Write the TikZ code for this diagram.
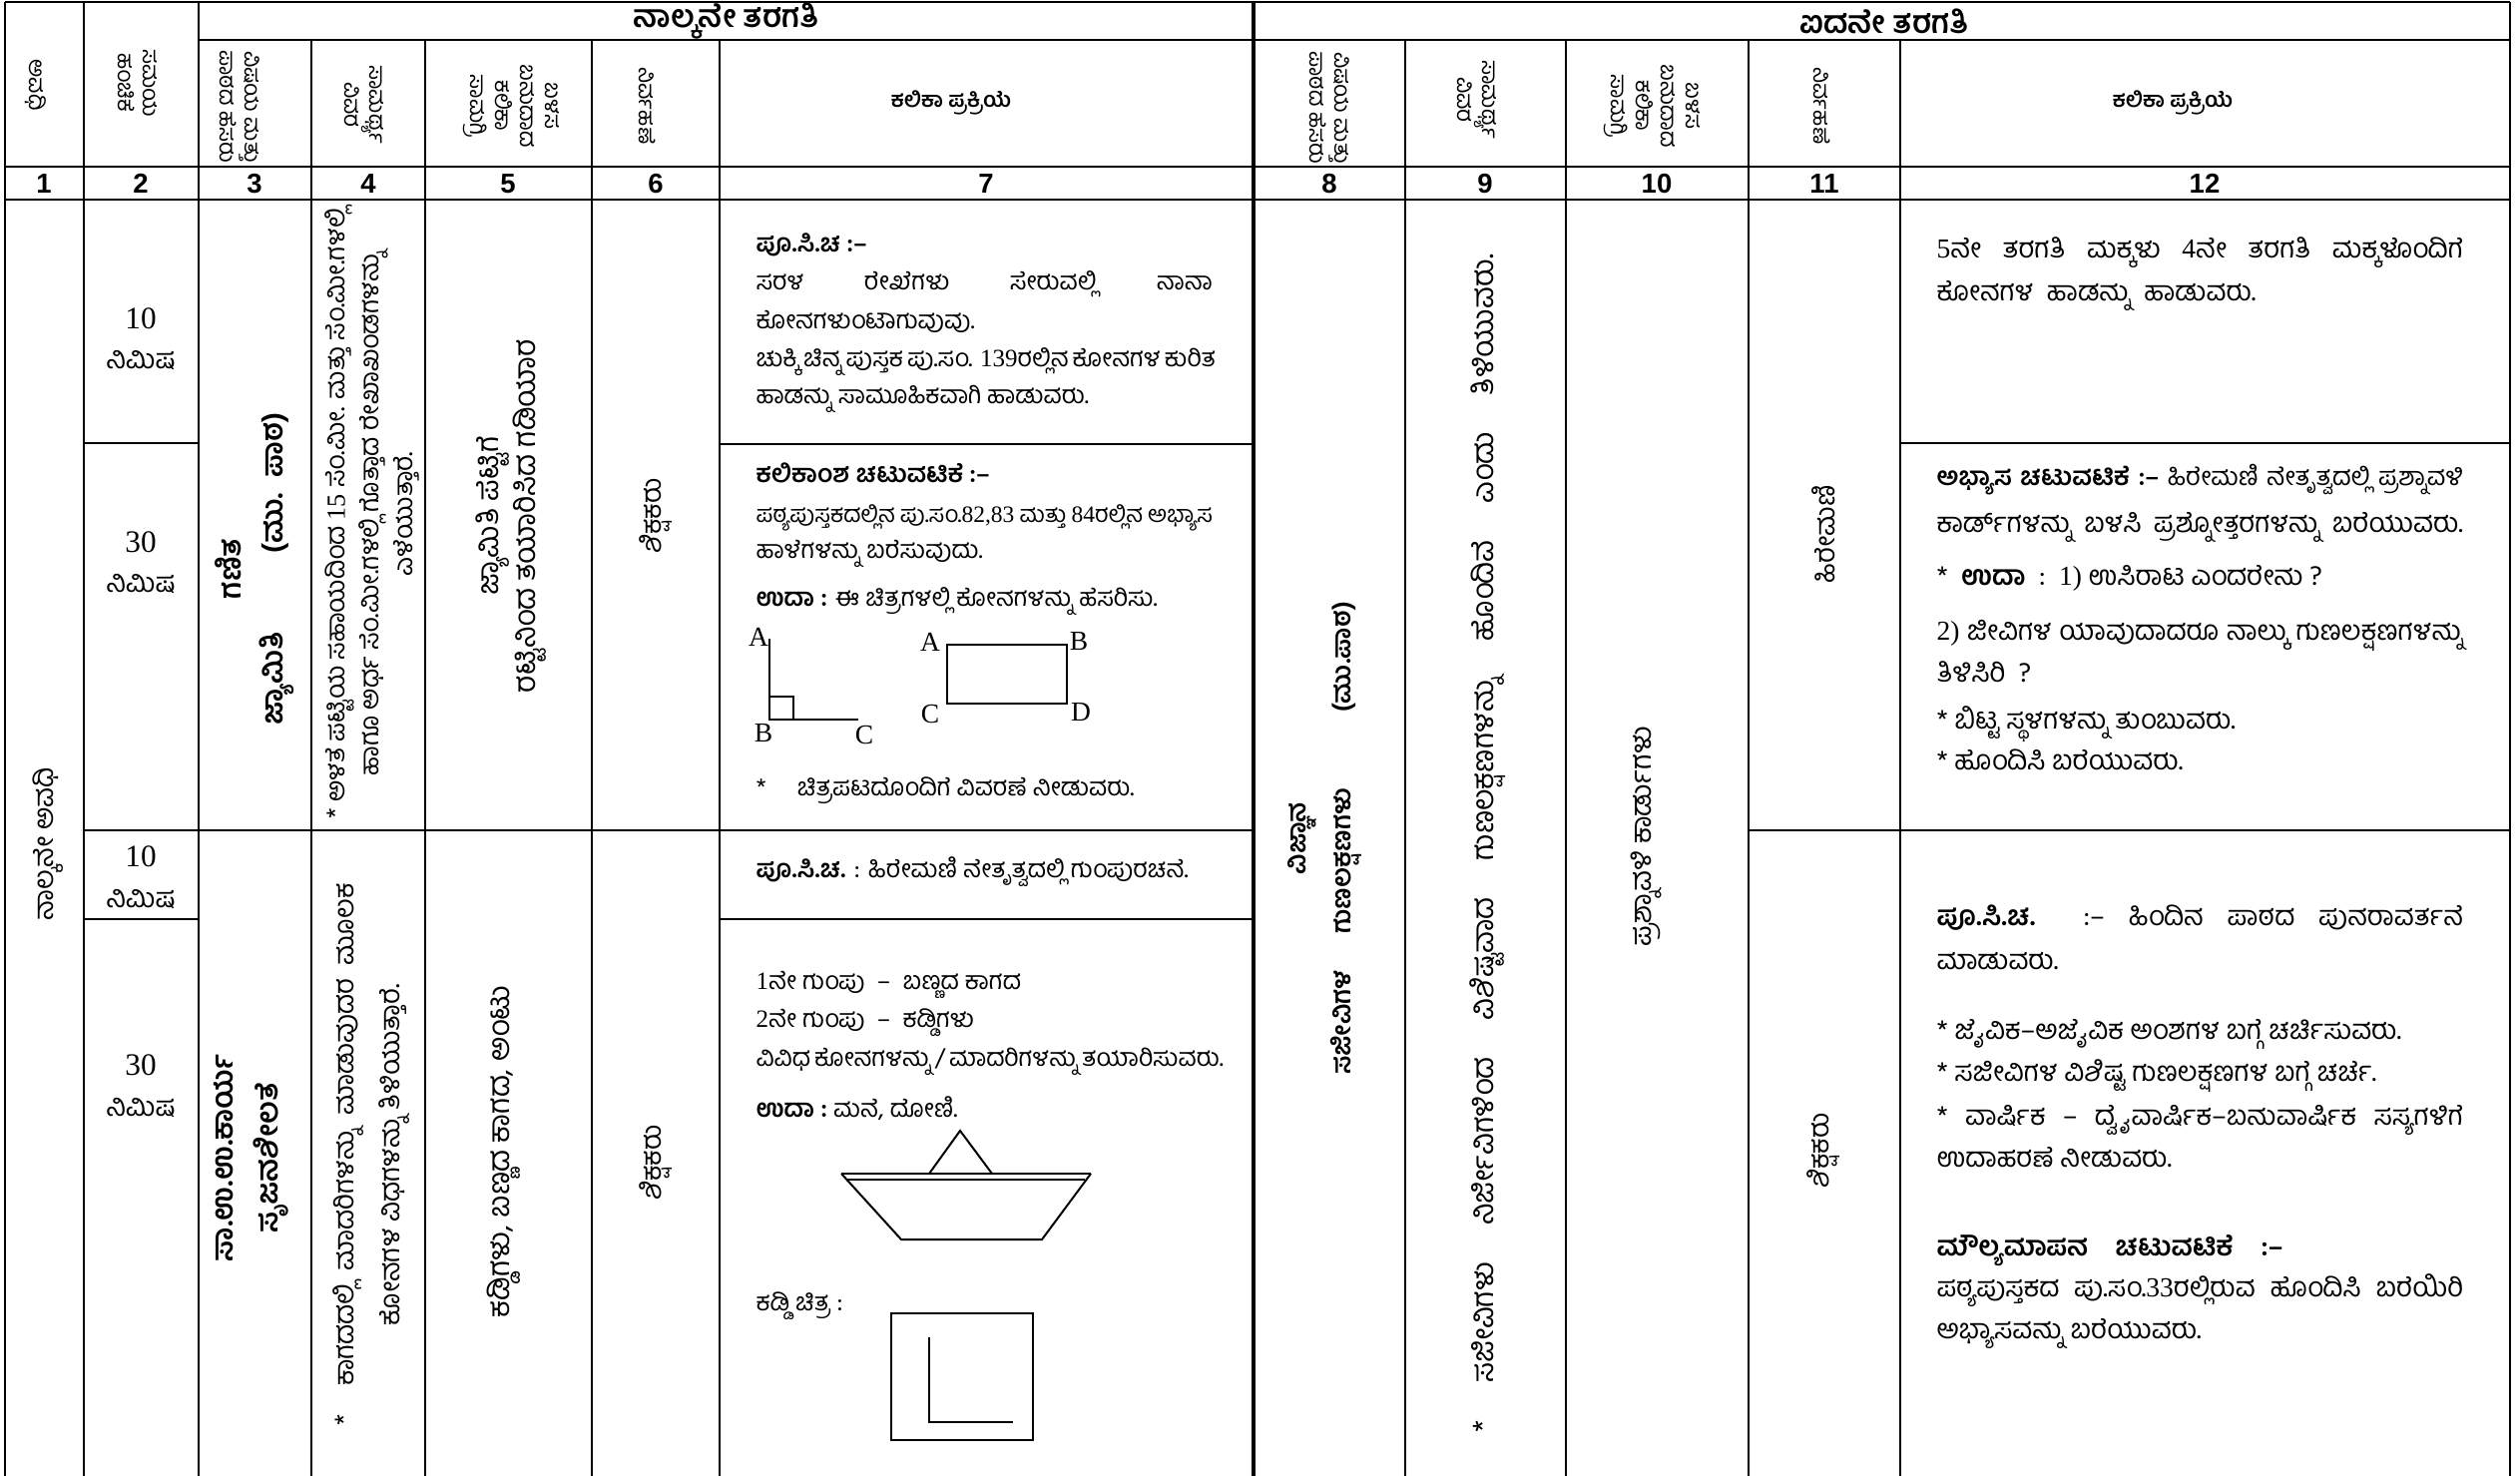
\documentclass[tikz,border=0pt]{standalone}
\usepackage{fontspec}
\setmainfont{Hind Mysuru}[Script=Kannada]
\newfontfamily\lat{Liberation Serif}
\newfontfamily\hd{Liberation Sans}
\newcommand\dg[1]{{\lat #1}}
\newlength\wA \setlength\wA{183pt}
\newlength\wB \setlength\wB{211pt}
\newcommand\jA[1]{\makebox[\wA][s]{#1}}
\newcommand\jB[1]{\makebox[\wB][s]{#1}}
\tikzset{
 grid/.style={line width=1.15pt},
 fig/.style={line width=0.8pt},
 tA/.style={anchor=mid west, inner sep=0pt, font=\fontsize{10}{12}\selectfont},
 tB/.style={anchor=mid west, inner sep=0pt, font=\fontsize{11}{14}\selectfont},
 rt/.style={rotate=90, align=center, inner sep=0pt},
 hv/.style={rotate=-90, align=center, inner sep=0pt, font=\fontsize{9}{10}\selectfont},
 num/.style={inner sep=0pt, font=\hd\bfseries\fontsize{11}{12}\selectfont},
 ttl/.style={inner sep=0pt, font=\bfseries\fontsize{12.5}{14}\selectfont},
 lbl/.style={inner sep=0pt, font=\lat\fontsize{11}{12}\selectfont},
}
\begin{document}
\begin{tikzpicture}[x=0.4pt,y=-0.4pt]
\useasboundingbox (0,0) rectangle (2525,1479);
\fill[white] (0,0) rectangle (2525,1479);
% ---------- grid ----------
\draw[grid] (5,2) -- (2515,2);
\draw[grid] (199,40) -- (2515,40);
\draw[grid] (5,167) -- (2515,167);
\draw[grid] (5,200) -- (2515,200);
\draw[grid] (84,444) -- (199,444);
\draw[grid] (721,445) -- (1256,445);
\draw[grid] (1904,444) -- (2515,444);
\draw[grid] (84,832) -- (1256,832);
\draw[grid] (1752,832) -- (2515,832);
\draw[grid] (84,921) -- (199,921);
\draw[grid] (721,921) -- (1256,921);
\foreach \x in {5,84,199,2515} \draw[grid] (\x,2) -- (\x,1490);
\draw[line width=1.6pt] (1256,2) -- (1256,1490);
\foreach \x in {312,426,593,721,1408,1569,1752,1904} \draw[grid] (\x,40) -- (\x,1490);
% ---------- header ----------
\node[ttl] (t4) at (728,21) {ನಾಲ್ಕನೇ ತರಗತಿ};
\node[ttl] (t5) at (1888,21) {ಐದನೇ ತರಗತಿ};
\node[hv] (h1) at (36,85) {ಅವಧಿ};
\node[hv] (h2) at (138,83) {ಸಮಯ\\ಹಂಚಿಕೆ};
\node[hv] (h3) at (240,107) {ವಿಷಯ ಮತ್ತು\\ಪಾಠದ ಹೆಸರು};
\node[hv] (h4) at (365,105) {ಸಾಮರ್ಥ್ಯ\\ವಿವರ};
\node[hv] (h5) at (512,106) {ಬಳಸ\\ಬಹುದಾದ\\ಕಲಿಕಾ\\ಸಾಮಗ್ರಿ};
\node[hv] (h6) at (649,106) {ನಿರ್ವಹಣೆ};
\node[inner sep=0pt, font=\bfseries\fontsize{8.5}{10}\selectfont] (h7) at (953,103) {ಕಲಿಕಾ ಪ್ರಕ್ರಿಯೆ};
\node[hv] (h8) at (1332,108) {ವಿಷಯ ಮತ್ತು\\ಪಾಠದ ಹೆಸರು};
\node[hv] (h9) at (1480,100) {ಸಾಮರ್ಥ್ಯ\\ವಿವರ};
\node[hv] (h10) at (1655,106) {ಬಳಸ\\ಬಹುದಾದ\\ಕಲಿಕಾ\\ಸಾಮಗ್ರಿ};
\node[hv] (h11) at (1826,106) {ನಿರ್ವಹಣೆ};
\node[inner sep=0pt, font=\bfseries\fontsize{8.5}{10}\selectfont] (h12) at (2177,103) {ಕಲಿಕಾ ಪ್ರಕ್ರಿಯೆ};
\foreach \x/\t [count=\i] in {44/1,141/2,255/3,369/4,509/5,657/6,988/7,1332/8,1488/9,1660/10,1828/11,2209/12}
  \node[num] (n\i) at (\x,184) {\t};
% ---------- column 1, 2 ----------
\node[rt, font=\fontsize{11}{13}\selectfont] (c1) at (48,846) {ನಾಲ್ಕನೇ ಅವಧಿ};
\node[lbl, font=\lat\fontsize{12.5}{14}\selectfont] (c2a) at (141,319) {10};
\node[inner sep=0pt, font=\fontsize{11}{13}\selectfont] (c2b) at (141,361) {ನಿಮಿಷ};
\node[lbl, font=\lat\fontsize{12.5}{14}\selectfont] (c2c) at (141,543) {30};
\node[inner sep=0pt, font=\fontsize{11}{13}\selectfont] (c2d) at (141,585) {ನಿಮಿಷ};
\node[lbl, font=\lat\fontsize{12.5}{14}\selectfont] (c2e) at (141,858) {10};
\node[inner sep=0pt, font=\fontsize{11}{13}\selectfont] (c2f) at (141,901) {ನಿಮಿಷ};
\node[lbl, font=\lat\fontsize{12.5}{14}\selectfont] (c2g) at (141,1067) {30};
\node[inner sep=0pt, font=\fontsize{11}{13}\selectfont] (c2h) at (141,1110) {ನಿಮಿಷ};
% ---------- columns 3-6 ----------
\node[rt, font=\bfseries\fontsize{12}{17}\selectfont] (c3a) at (255,570) {ಗಣಿತ\\ಜ್ಯಾಮಿತಿ\hspace{2.6em}(ಮು.\ \ ಪಾಠ)};
\node[rt, font=\bfseries\fontsize{12}{18}\selectfont] (c3b) at (252,1160) {ಸಾ.ಉ.ಉ.ಕಾರ್ಯ\\ಸೃಜನಶೀಲತೆ};
\node[rt, font=\fontsize{10.5}{13.6}\selectfont] (c4a) at (373,515) {* ಅಳತೆ ಪಟ್ಟಿಯ ಸಹಾಯದಿಂದ \dg{15} ಸೆಂ.ಮೀ. ಮತ್ತು ಸೆಂ.ಮೀ.ಗಳಲ್ಲಿ\\ಹಾಗೂ ಅರ್ಧ ಸೆಂ.ಮೀ.ಗಳಲ್ಲಿ ಗೊತ್ತಾದ ರೇಖಾಖಂಡಗಳನ್ನು\\ಎಳೆಯುತ್ತಾರೆ.};
\node[rt, font=\fontsize{11}{18.4}\selectfont] (c4b) at (372,1157) {*\hspace{0.8em} ಕಾಗದದಲ್ಲಿ\ \ ಮಾದರಿಗಳನ್ನು\ \ ಮಾಡುವುದರ\ \ ಮೂಲಕ\\ಕೋನಗಳ ವಿಧಗಳನ್ನು ತಿಳಿಯುತ್ತಾರೆ.};
\node[rt, font=\fontsize{12}{15}\selectfont] (c5a) at (512,517) {ಜ್ಯಾಮಿತಿ ಪೆಟ್ಟಿಗೆ\\ರಟ್ಟಿನಿಂದ ತಯಾರಿಸಿದ ಗಡಿಯಾರ};
\node[rt, font=\fontsize{12}{15}\selectfont] (c5b) at (505,1154) {ಕಡ್ಡಿಗಳು, ಬಣ್ಣದ ಕಾಗದ, ಅಂಟು};
\node[rt, font=\fontsize{11}{13}\selectfont] (c6a) at (657,517) {ಶಿಕ್ಷಕರು};
\node[rt, font=\fontsize{11}{13}\selectfont] (c6b) at (657,1165) {ಶಿಕ್ಷಕರು};
% ---------- column 7 ----------
\node[tA] (a1) at (757,246) {\textbf{ಪೂ.ಸಿ.ಚ :–}};
\node[tA] (a2) at (757,284) {\jA{ಸರಳ ರೇಖೆಗಳು ಸೇರುವಲ್ಲಿ ನಾನಾ}};
\node[tA] (a3) at (757,323) {ಕೋನಗಳುಂಟಾಗುವುವು.};
\node[tA] (a4) at (757,361) {\jA{ಚುಕ್ಕಿ ಚಿನ್ನ ಪುಸ್ತಕ ಪು.ಸಂ. \dg{139}ರಲ್ಲಿನ ಕೋನಗಳ ಕುರಿತ}};
\node[tA] (a5) at (757,398) {ಹಾಡನ್ನು ಸಾಮೂಹಿಕವಾಗಿ ಹಾಡುವರು.};
\node[tA] (a6) at (757,477) {\textbf{ಕಲಿಕಾಂಶ ಚಟುವಟಿಕೆ :–}};
\node[tA, font=\fontsize{9.4}{12}\selectfont] (a7) at (757,517) {\jA{ಪಠ್ಯಪುಸ್ತಕದಲ್ಲಿನ ಪು.ಸಂ.\dg{82,83} ಮತ್ತು \dg{84}ರಲ್ಲಿನ ಅಭ್ಯಾಸ}};
\node[tA] (a8) at (757,553) {ಹಾಳೆಗಳನ್ನು ಬರೆಸುವುದು.};
\node[tA] (a9) at (757,601) {\textbf{ಉದಾ :} ಈ ಚಿತ್ರಗಳಲ್ಲಿ ಕೋನಗಳನ್ನು ಹೆಸರಿಸು.};
\node[tA] (a10) at (757,791) {*\hspace{1em} ಚಿತ್ರಪಟದೊಂದಿಗೆ ವಿವರಣೆ ನೀಡುವರು.};
\node[tA] (a11) at (757,873) {\textbf{ಪೂ.ಸಿ.ಚ.} : ಹಿರೇಮಣಿ ನೇತೃತ್ವದಲ್ಲಿ ಗುಂಪುರಚನೆ.};
\node[tA] (a12) at (757,985) {\dg{1}ನೇ ಗುಂಪು\ \ –\ \ ಬಣ್ಣದ ಕಾಗದ};
\node[tA] (a13) at (757,1023) {\dg{2}ನೇ ಗುಂಪು\ \ –\ \ ಕಡ್ಡಿಗಳು};
\node[tA] (a14) at (757,1062) {\jA{ವಿವಿಧ ಕೋನಗಳನ್ನು / ಮಾದರಿಗಳನ್ನು ತಯಾರಿಸುವರು.}};
\node[tA] (a15) at (757,1113) {\textbf{ಉದಾ :}\ ಮನೆ, ದೋಣಿ.};
\node[tA] (a16) at (757,1307) {ಕಡ್ಡಿ ಚಿತ್ರ :};
% figures
\draw[fig] (771,640) -- (771,721) -- (860,721);
\draw[fig] (771,698) rectangle (795,721);
\node[lbl] (fa) at (760,638) {A};
\node[lbl] (fb) at (765,735) {B};
\node[lbl] (fc) at (866,737) {C};
\draw[fig] (949,646) rectangle (1069,705);
\node[lbl] (ra) at (932,643) {A};
\node[lbl] (rb) at (1081,643) {B};
\node[lbl] (rc) at (932,716) {C};
\node[lbl] (rd) at (1083,714) {D};
\draw[fig] (931,1176) -- (962,1133) -- (994,1176);
\draw[fig] (843,1176) -- (1093,1176);
\draw[fig] (849,1182) -- (1087,1182);
\draw[fig] (843,1176) -- (903,1242) -- (1044,1242) -- (1093,1176);
\draw[fig] (893,1316) rectangle (1035,1443);
\draw[fig] (931,1340) -- (931,1425) -- (1015,1425);
% ---------- columns 8-11 ----------
\node[rt, font=\bfseries\fontsize{10.5}{18}\selectfont] (c8) at (1327,840) {ವಿಜ್ಞಾನ\\ಸಜೀವಿಗಳ\hspace{1.4em}ಗುಣಲಕ್ಷಣಗಳು\hspace{2.9em}(ಮು.ಪಾಠ)};
\node[rt, font=\fontsize{12}{14}\selectfont] (c9) at (1491,845) {\makebox[472pt][s]{* ಸಜೀವಿಗಳು ನಿರ್ಜೀವಿಗಳಿಂದ ವಿಶಿಷ್ಟವಾದ ಗುಣಲಕ್ಷಣಗಳನ್ನು ಹೊಂದಿವೆ ಎಂದು ತಿಳಿಯುವರು.}};
\node[rt, font=\fontsize{11.5}{14}\selectfont] (c10) at (1650,838) {ಪ್ರಶ್ನಾವಳಿ ಕಾರ್ಡುಗಳು};
\node[rt, font=\fontsize{11}{13}\selectfont] (c11a) at (1827,535) {ಹಿರೇಮಣಿ};
\node[rt, font=\fontsize{11}{13}\selectfont] (c11b) at (1827,1153) {ಶಿಕ್ಷಕರು};
% ---------- column 12 ----------
\node[tB] (b1) at (1940,252) {\jB{\dg{5}ನೇ ತರಗತಿ ಮಕ್ಕಳು \dg{4}ನೇ ತರಗತಿ ಮಕ್ಕಳೊಂದಿಗೆ}};
\node[tB] (b2) at (1940,295) {ಕೋನಗಳ\ \ ಹಾಡನ್ನು\ \ ಹಾಡುವರು.};
\node[tB, font=\fontsize{10.2}{14}\selectfont] (b3) at (1940,480) {\jB{\textbf{ಅಭ್ಯಾಸ ಚಟುವಟಿಕೆ :–} ಹಿರೇಮಣಿ ನೇತೃತ್ವದಲ್ಲಿ ಪ್ರಶ್ನಾವಳಿ}};
\node[tB] (b4) at (1940,527) {\jB{ಕಾರ್ಡ್‌ಗಳನ್ನು ಬಳಸಿ ಪ್ರಶ್ನೋತ್ತರಗಳನ್ನು ಬರೆಯುವರು.}};
\node[tB] (b5) at (1940,580) {*\ \ \textbf{ಉದಾ}\ \ :\ \ \dg{1)} ಉಸಿರಾಟ ಎಂದರೇನು ?};
\node[tB] (b6) at (1940,635) {\jB{\dg{2)} ಜೀವಿಗಳ ಯಾವುದಾದರೂ ನಾಲ್ಕು ಗುಣಲಕ್ಷಣಗಳನ್ನು}};
\node[tB] (b7) at (1940,677) {ತಿಳಿಸಿರಿ\ \ ?};
\node[tB] (b8) at (1940,724) {* ಬಿಟ್ಟ ಸ್ಥಳಗಳನ್ನು ತುಂಬುವರು.};
\node[tB] (b9) at (1940,765) {* ಹೊಂದಿಸಿ ಬರೆಯುವರು.};
\node[tB] (b10) at (1940,921) {\jB{\textbf{ಪೂ.ಸಿ.ಚ.}\ \ :– ಹಿಂದಿನ ಪಾಠದ ಪುನರಾವರ್ತನೆ}};
\node[tB] (b11) at (1940,965) {ಮಾಡುವರು.};
\node[tB] (b12) at (1940,1035) {* ಜೈವಿಕ–ಅಜೈವಿಕ ಅಂಶಗಳ ಬಗ್ಗೆ ಚರ್ಚಿಸುವರು.};
\node[tB] (b13) at (1940,1077) {* ಸಜೀವಿಗಳ ವಿಶಿಷ್ಟ ಗುಣಲಕ್ಷಣಗಳ ಬಗ್ಗೆ ಚರ್ಚೆ.};
\node[tB] (b14) at (1940,1121) {\jB{* ವಾರ್ಷಿಕ – ದ್ವೈವಾರ್ಷಿಕ–ಬಹುವಾರ್ಷಿಕ ಸಸ್ಯಗಳಿಗೆ}};
\node[tB] (b15) at (1940,1163) {ಉದಾಹರಣೆ ನೀಡುವರು.};
\node[tB] (b16) at (1940,1252) {\textbf{ಮೌಲ್ಯಮಾಪನ\quad ಚಟುವಟಿಕೆ\quad :–}};
\node[tB] (b17) at (1940,1293) {\jB{ಪಠ್ಯಪುಸ್ತಕದ ಪು.ಸಂ.\dg{33}ರಲ್ಲಿರುವ ಹೊಂದಿಸಿ ಬರೆಯಿರಿ}};
\node[tB] (b18) at (1940,1335) {ಅಭ್ಯಾಸವನ್ನು ಬರೆಯುವರು.};
\end{tikzpicture}
\end{document}
